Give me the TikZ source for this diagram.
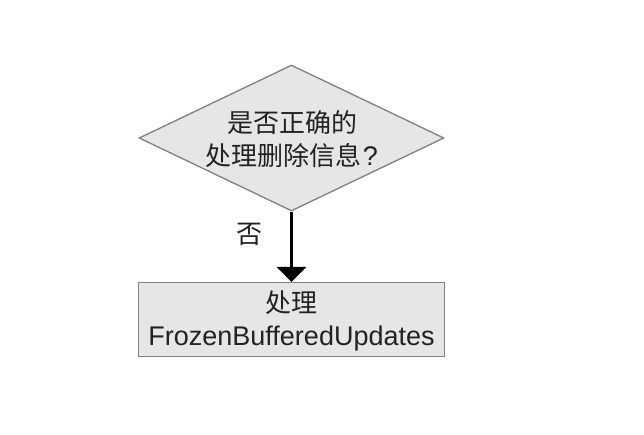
\documentclass[tikz,border=0pt]{standalone}
\usepackage{fontspec}
\setmainfont{Liberation Sans}
\newfontfamily\cjk{Noto Sans CJK SC}[Scale=1.0]
\usetikzlibrary{shapes.geometric,arrows.meta}
\definecolor{boxfill}{HTML}{E6E6E6}
\definecolor{boxline}{HTML}{808080}
\definecolor{txt}{HTML}{222222}
\newcommand{\ck}[1]{{\cjk\fontsize{26}{33}\selectfont #1}}
\begin{document}
\begin{tikzpicture}[x=1pt,y=-1pt,
  shapebox/.style={draw=boxline,fill=boxfill,line width=1.3pt,inner sep=0pt},
  lbl/.style={text=txt,font=\fontsize{27}{33}\selectfont,align=center,inner sep=0pt},
  flow/.style={line width=3.8pt,-{Triangle[width=29pt,length=15pt]}}]
\useasboundingbox (0,0) rectangle (644,434);
\node[shapebox,diamond,minimum width=305pt,minimum height=146pt] (dec) at (291.5,138) {};
\node[lbl] (dectxt) at (292,139) {\ck{是否正确的}\\\ck{处理删除信息}\kern1pt?};
\node[shapebox,rectangle,minimum width=306pt,minimum height=74pt] (proc) at (291.5,319.5) {};
\node[lbl] (proctxt) at (291.5,321) {\ck{处理}\\FrozenBufferedUpdates};
\draw[flow] (dec.south) -- (proc.north) node[pos=0.33,left=27pt,lbl] (no) {\ck{否}};
\end{tikzpicture}
\end{document}
